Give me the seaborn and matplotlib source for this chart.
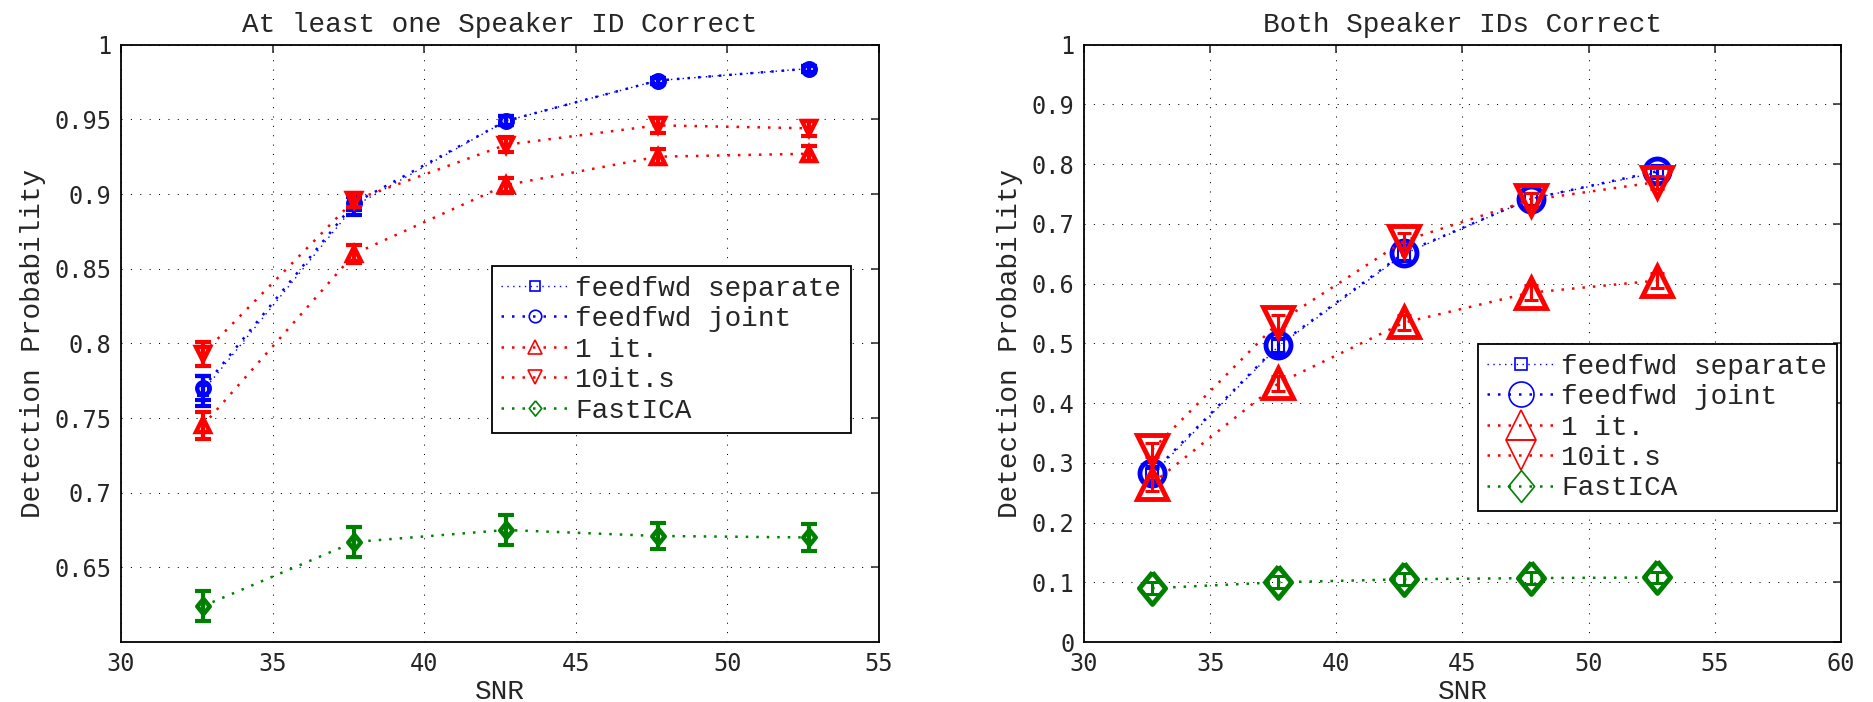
import matplotlib
matplotlib.use('Agg')
import matplotlib.pyplot as plt
import seaborn as sns

sns.set_style('white')
plt.rcParams['font.family'] = ['Liberation Mono', 'DejaVu Sans Mono']
plt.rcParams['axes.linewidth'] = 1.3

# ----------------------------------------------------------------------
# Data
# ----------------------------------------------------------------------
snr = [32.7, 37.7, 42.7, 47.7, 52.7]
series_names = ['feedfwd separate', 'feedfwd joint', '1 it.', '10it.s', 'FastICA']

# left panel: at least one speaker ID correct
one_sep = [0.768, 0.892, 0.949, 0.976, 0.984]
one_joint = [0.770, 0.894, 0.949, 0.976, 0.984]
one_1it = [0.745, 0.860, 0.906, 0.925, 0.927]
one_10it = [0.793, 0.896, 0.933, 0.946, 0.944]
one_ica = [0.624, 0.667, 0.675, 0.671, 0.670]

one_sep_err = [0.010, 0.006, 0.003, 0.002, 0.002]
one_joint_err = [0.008, 0.005, 0.003, 0.002, 0.002]
one_1it_err = [0.009, 0.006, 0.005, 0.005, 0.005]
one_10it_err = [0.008, 0.005, 0.005, 0.005, 0.005]
one_ica_err = [0.010, 0.010, 0.010, 0.009, 0.009]

# right panel: both speaker IDs correct
both_sep = [0.280, 0.495, 0.650, 0.742, 0.786]
both_joint = [0.283, 0.497, 0.652, 0.742, 0.788]
both_1it = [0.265, 0.433, 0.535, 0.585, 0.605]
both_10it = [0.322, 0.535, 0.672, 0.740, 0.770]
both_ica = [0.090, 0.100, 0.105, 0.107, 0.108]

both_sep_err = [0.012, 0.012, 0.012, 0.010, 0.010]
both_joint_err = [0.012, 0.012, 0.012, 0.010, 0.010]
both_1it_err = [0.013, 0.013, 0.012, 0.012, 0.012]
both_10it_err = [0.012, 0.012, 0.012, 0.011, 0.011]
both_ica_err = [0.010, 0.010, 0.010, 0.010, 0.010]

left_yticks = [0.65, 0.7, 0.75, 0.8, 0.85, 0.9, 0.95, 1]
left_yticklabels = ['0.65', '0.7', '0.75', '0.8', '0.85', '0.9', '0.95', '1']
left_xticks = [30, 35, 40, 45, 50, 55]
right_yticks = [0, 0.1, 0.2, 0.3, 0.4, 0.5, 0.6, 0.7, 0.8, 0.9, 1]
right_yticklabels = ['0', '0.1', '0.2', '0.3', '0.4', '0.5', '0.6', '0.7', '0.8', '0.9', '1']
right_xticks = [30, 35, 40, 45, 50, 55, 60]

BLUE, RED, GREEN = '#0000ff', '#ff0000', '#008000'
DIAMOND = [(0, 1), (0.82, 0), (0, -1), (-0.82, 0), (0, 1)]

styles = [
    dict(color=BLUE, marker='s', lw=1.0),
    dict(color=BLUE, marker='o', lw=1.8),
    dict(color=RED, marker='^', lw=1.8),
    dict(color=RED, marker='v', lw=1.8),
    dict(color=GREEN, marker=DIAMOND, lw=1.8),
]


def draw_panel(ax, values, errors, msizes, mew, capsize, elw):
    for i, (vals, errs, st) in enumerate(zip(values, errors, styles)):
        z = 2 + i * 0.2
        sns.lineplot(x=snr, y=vals, ax=ax, color=st['color'], marker=st['marker'],
                     markersize=msizes[i], markeredgewidth=mew[i],
                     markeredgecolor=st['color'], markerfacecolor='none',
                     linestyle=(0, (1, 3.2)), linewidth=st['lw'],
                     label=series_names[i], errorbar=None, zorder=z)
        ax.errorbar(snr, vals, yerr=errs, fmt='none', ecolor=st['color'],
                    elinewidth=elw, capsize=capsize, capthick=elw, zorder=z + 0.1)


fig = plt.figure(figsize=(18.74, 7.02), dpi=100)
ax1 = fig.add_axes([0.06457, 0.08547, 0.40448, 0.85085])
ax2 = fig.add_axes([0.57844, 0.08547, 0.40395, 0.85085])

draw_panel(ax1, [one_sep, one_joint, one_1it, one_10it, one_ica],
           [one_sep_err, one_joint_err, one_1it_err, one_10it_err, one_ica_err],
           msizes=[7, 9, 10, 10, 11], mew=[1.5, 3.2, 3.2, 3.2, 3.2], capsize=6, elw=3.0)
draw_panel(ax2, [both_sep, both_joint, both_1it, both_10it, both_ica],
           [both_sep_err, both_joint_err, both_1it_err, both_10it_err, both_ica_err],
           msizes=[8, 18, 21, 21, 23], mew=[1.5, 3.5, 3.5, 3.5, 3.5], capsize=5, elw=2.2)

ax1.set_xlim(30, 55)
ax1.set_ylim(0.6, 1.0)
ax1.set_xticks(left_xticks)
ax1.set_xticklabels([str(t) for t in left_xticks])
ax1.set_yticks(left_yticks)
ax1.set_yticklabels(left_yticklabels)
ax1.set_title('At least one Speaker ID Correct', fontsize=20, pad=9)

ax2.set_xlim(30, 60)
ax2.set_ylim(0, 1)
ax2.set_xticks(right_xticks)
ax2.set_xticklabels([str(t) for t in right_xticks])
ax2.set_yticks(right_yticks)
ax2.set_yticklabels(right_yticklabels)
ax2.set_title('Both Speaker IDs Correct', fontsize=20, pad=9)

legend_anchor = {ax1: (0.489, 0.6295), ax2: (0.52, 0.499)}
for ax in (ax1, ax2):
    ax.grid(True, color='black', linestyle=(0, (1, 8)), linewidth=0.75)
    ax.set_axisbelow(True)
    ax.tick_params(direction='in', length=6, width=1.1, top=True, right=True,
                   labelsize=17, pad=7)
    for lab in ax.get_xticklabels() + ax.get_yticklabels():
        lab.set_family('DejaVu Sans Mono')
    for sp in ax.spines.values():
        sp.set_color('black')
    ax.set_xlabel('SNR', fontsize=20, labelpad=2)
    ax.set_ylabel('Detection Probability', fontsize=20, labelpad=6)
    leg = ax.legend(loc='upper left', bbox_to_anchor=legend_anchor[ax],
                    borderaxespad=0, fontsize=20, handlelength=2.4,
                    handletextpad=0.25, labelspacing=0.16, borderpad=0.35,
                    fancybox=False, framealpha=1, edgecolor='black')
    leg.get_frame().set_linewidth(1.3)
    for h in leg.get_lines():
        h.set_markeredgewidth(1.2)

fig.savefig('out.png', dpi=100)
